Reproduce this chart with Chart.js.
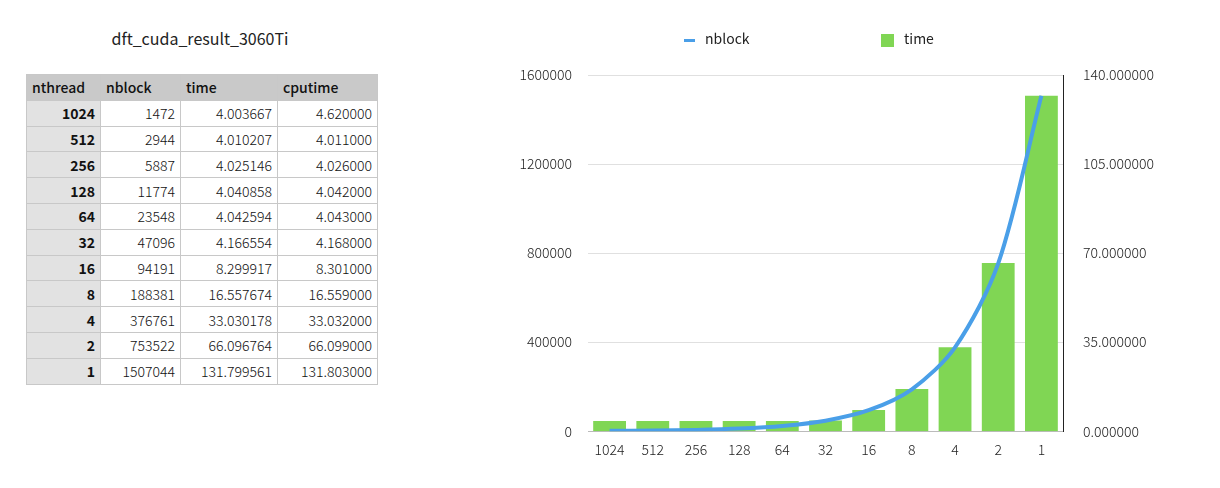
<!DOCTYPE html>
<html>
<head>
<meta charset="utf-8">
<script src="https://cdn.jsdelivr.net/npm/chart.js@4"></script>
<style>
  body { margin: 0; width: 1220px; height: 488px; background: #fff; font-family: "Noto Sans CJK JP", "Noto Sans", sans-serif; position: relative; overflow: hidden; }
  #title { position: absolute; left: 26px; width: 348px; top: 26px; text-align: center; font-size: 16px; color: #222; }
  table { position: absolute; left: 26px; top: 74px; border-collapse: collapse; font-size: 14px; color: #111; }
  td, th { border: 1px solid #c8c8c8; height: 24.8px; padding: 0 5px; line-height: 1; }
  th { background: #c9c9c9; text-align: left; font-weight: 500; }
  td { text-align: right; font-weight: 300; }
  td.key { background: #e2e2e2; font-weight: 600; }
  #wrap { position: absolute; left: 480px; top: 0; width: 740px; height: 488px; }
  .leg { position: absolute; top: 28px; font-size: 14px; color: #222; }
  .leg span { display: inline-block; vertical-align: middle; margin-right: 10px; }
</style>
</head>
<body>
<div id="title">dft_cuda_result_3060Ti</div>
<table id="tbl"></table>
<div id="wrap"><canvas id="chart" width="740" height="488"></canvas></div>
<div class="leg" style="left:684px"><span style="width:11px;height:3px;background:#4a9fe8"></span>nblock</div>
<div class="leg" style="left:881px"><span style="width:13px;height:13px;background:#80d654"></span>time</div>
<script>
const nthread = ['1024', '512', '256', '128', '64', '32', '16', '8', '4', '2', '1'];
const nblock = [1472, 2944, 5887, 11774, 23548, 47096, 94191, 188381, 376761, 753522, 1507044];
const time = [4.003667, 4.010207, 4.025146, 4.040858, 4.042594, 4.166554, 8.299917, 16.557674, 33.030178, 66.096764, 131.799561];
const cputime = ['4.620000', '4.011000', '4.026000', '4.042000', '4.043000', '4.168000', '8.301000', '16.559000', '33.032000', '66.099000', '131.803000'];
const leftTicks = [0, 400000, 800000, 1200000, 1600000];
const rightTicks = [0, 35, 70, 105, 140];

// Build the table
const tbl = document.getElementById('tbl');
let html = '<tr><th style="width:63px">nthread</th><th style="width:69px">nblock</th><th style="width:86px">time</th><th style="width:89px">cputime</th></tr>';
nthread.forEach((t, i) => {
    html += `<tr><td class="key">${t}</td><td>${nblock[i]}</td><td>${time[i].toFixed(6)}</td><td>${cputime[i]}</td></tr>`;
});
tbl.innerHTML = html;

const font = { family: '"Noto Sans CJK JP", "Noto Sans", sans-serif', size: 14, weight: 300 };
Chart.defaults.color = '#222';

new Chart(document.getElementById('chart'), {
    data: {
        labels: nthread,
        datasets: [
            {
                type: 'line', label: 'nblock', data: nblock, yAxisID: 'y',
                borderColor: '#4a9fe8', borderWidth: 4, pointRadius: 0, tension: 0.3, order: 0
            },
            {
                type: 'bar', label: 'time', data: time, yAxisID: 'y2',
                backgroundColor: '#80d654', barPercentage: 0.76, categoryPercentage: 1, order: 1
            }
        ]
    },
    options: {
        responsive: false,
        animation: false,
        layout: { padding: { left: 0, right: 50, top: 75, bottom: 28 } },
        plugins: {
            legend: { display: false },
            tooltip: { enabled: false }
        },
        scales: {
            x: {
                grid: { display: false },
                border: { color: '#bbb' },
                ticks: { font: font, padding: 2 }
            },
            y: {
                position: 'left', min: 0, max: 1600000,
                afterBuildTicks: s => { s.ticks = leftTicks.map(v => ({ value: v })); },
                afterFit: s => { s.width = 108; },
                grid: { color: '#e0e0e0', drawTicks: false },
                border: { display: false },
                ticks: { font: font, padding: 16, callback: v => String(v) }
            },
            y2: {
                position: 'right', min: 0, max: 140,
                afterBuildTicks: s => { s.ticks = rightTicks.map(v => ({ value: v })); },
                afterFit: s => { s.width = 107; },
                grid: { display: false, drawTicks: false },
                border: { display: true, color: '#222' },
                ticks: { font: font, padding: 20, callback: v => v.toFixed(6) }
            }
        }
    }
});
</script>
</body>
</html>
